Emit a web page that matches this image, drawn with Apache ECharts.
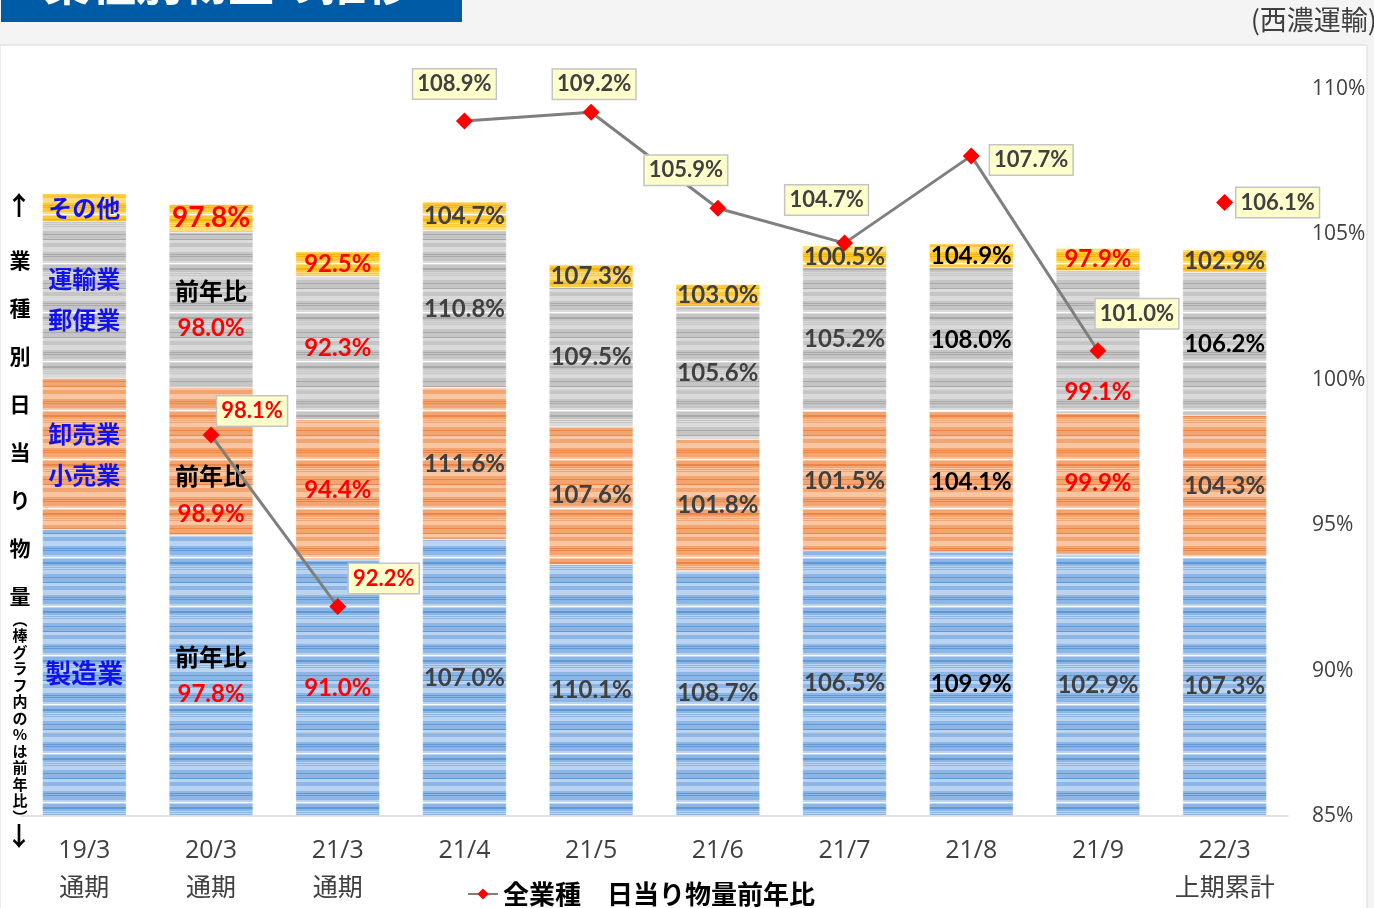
<!DOCTYPE html>
<html>
<head>
<meta charset="utf-8">
<script src="https://cdn.jsdelivr.net/npm/echarts@6/dist/echarts.min.js"></script>
<style>
html,body{margin:0;padding:0;background:#F4F4F4;}
#chart{width:1374px;height:908px;}
</style>
</head>
<body>
<div id="chart"></div>
<script>
// ---------- data ----------
const categories = ['19/3\n通期','20/3\n通期','21/3\n通期','21/4','21/5','21/6','21/7','21/8','21/9','22/3\n上期累計'];
// relative daily volume by industry (bar segment sizes, index scale)
const manufacturing   = [39.4, 38.6, 35.2, 38.0, 34.6, 33.7, 36.5, 36.3, 36.0, 35.7];
const wholesaleRetail = [20.8, 20.4, 19.3, 20.9, 18.9, 18.1, 19.2, 19.3, 19.4, 19.4];
const transportPostal = [21.6, 21.3, 19.7, 21.6, 19.2, 18.3, 19.7, 19.8, 19.6, 19.7];
const others          = [3.8, 3.8, 3.4, 4.0, 3.1, 3.0, 3.0, 3.3, 3.1, 3.1];
// year-on-year ratios (%) shown inside the bars
const manufacturingYoY   = [null, 97.8, 91.0, 107.0, 110.1, 108.7, 106.5, 109.9, 102.9, 107.3];
const wholesaleRetailYoY = [null, 98.9, 94.4, 111.6, 107.6, 101.8, 101.5, 104.1, 99.9, 104.3];
const transportPostalYoY = [null, 98.0, 92.3, 110.8, 109.5, 105.6, 105.2, 108.0, 99.1, 106.2];
const othersYoY          = [null, 97.8, 92.5, 104.7, 107.3, 103.0, 100.5, 104.9, 97.9, 102.9];
// all industries, daily volume YoY (%)
const allYoY = [null, 98.1, 92.2, 108.9, 109.2, 105.9, 104.7, 107.7, 101.0, 106.1];
const lineSegments = [[1, 2], [3, 8], [9, 9]];
const rightTicks = [85, 110, 5];
const segNames = {mfg: '製造業', whl: '卸売業\n小売業', trn: '運輸業\n郵便業', oth: 'その他'};
const legendName = '全業種　日当り物量前年比';

// ---------- styles ----------
const FONT = 'Lato, "Noto Sans CJK JP", sans-serif';
const CJK = '"Noto Sans CJK JP", sans-serif';
const NAME_BLUE = '#1212EE';
const RED = '#FF0000';
const DGRAY = '#404040';

function stripes(base, light, dark) {
  const c = document.createElement('canvas');
  const seq = 'BBLLLLLBBDBDBBBBLLWLBBBDDBBLBLBLLLLBBBDBBBBDLLLBB';
  c.width = 4; c.height = seq.length;
  const g = c.getContext('2d');
  for (let y = 0; y < seq.length; y++) {
    const ch = seq[y];
    g.fillStyle = ch === 'B' ? base : ch === 'L' ? light : ch === 'W' ? '#FFFFFF' : dark;
    g.globalAlpha = ch === 'W' ? 0.5 : 1;
    g.fillRect(0, y, 4, 1);
  }
  return {image: c, repeat: 'repeat'};
}
const patterns = {
  mfg: stripes('#8DB6E4', '#B9D3F0', '#5E9AD8'),
  whl: stripes('#F2A570', '#F8C6A2', '#EC8546'),
  trn: stripes('#C5C5C5', '#DADADA', '#A9A9A9'),
  oth: stripes('#FFC83A', '#FFDD78', '#F5B500')
};

function colorFor(key, i, v) {
  if (v < 100) return RED;
  if (i === 7) return '#000000';
  if (i === 9 && key === 'trn') return '#000000';
  return DGRAY;
}
const labelOffsets = {whl: {1: [0, 34]}, trn: {8: [0, 50]}};

function barSeries(key, values, yoy) {
  const data = values.map((v, i) => {
    let label;
    if (i === 0) {
      label = {formatter: segNames[key], color: NAME_BLUE, lineHeight: 41, fontSize: key === 'mfg' ? 26 : 24, fontFamily: CJK};
    } else if (i === 1 && key !== 'oth') {
      label = {
        formatter: '{k|前年比}\n{r|' + yoy[i].toFixed(1) + '%}',
        rich: {
          k: {color: '#000', fontSize: 24, fontWeight: 'bold', fontFamily: CJK, lineHeight: 38},
          r: {color: RED, fontSize: 24, fontWeight: 'bold', fontFamily: FONT, lineHeight: 38}
        }
      };
    } else {
      label = {formatter: yoy[i].toFixed(1) + '%', color: colorFor(key, i, yoy[i])};
      if (i === 1 && key === 'oth') label.fontSize = 28;
    }
    if (labelOffsets[key] && labelOffsets[key][i]) label.offset = labelOffsets[key][i];
    return {value: v, label: label};
  });
  return {
    type: 'bar', name: segNames[key], stack: 'vol', yAxisIndex: 0, barWidth: 84,
    itemStyle: {color: patterns[key], borderColor: 'rgba(255,255,255,0.6)', borderWidth: 0.5},
    label: {show: true, position: 'inside', fontSize: 24, fontWeight: 'bold', fontFamily: FONT},
    emphasis: {disabled: true},
    data: data, z: 2
  };
}

const pointOffsets = {1: [41, -24], 2: [46, -28], 3: [-10, -37], 4: [3, -28], 5: [-32, -38], 6: [-18, -43], 7: [60, 4], 8: [39, -37], 9: [53, 0]};
function lineSeries(seg) {
  const data = allYoY.map((v, i) => {
    if (i < seg[0] || i > seg[1] || v == null) return null;
    return {
      value: v,
      label: {
        formatter: v.toFixed(1) + '%',
        color: v < 100 ? RED : DGRAY,
        offset: pointOffsets[i]
      }
    };
  });
  return {
    type: 'line', name: legendName, yAxisIndex: 1, data: data,
    symbol: 'diamond', symbolSize: 17, connectNulls: false,
    lineStyle: {color: '#7F7F7F', width: 3},
    itemStyle: {color: '#FF0000'},
    label: {
      show: true, position: 'inside', fontSize: 22, fontWeight: 'bold', fontFamily: FONT,
      backgroundColor: '#FFFFCC', borderColor: '#C4C4C4', borderWidth: 1.5, padding: [4, 4, 3, 4]
    },
    emphasis: {disabled: true},
    z: 10
  };
}

const leftChars = '業\n種\n別\n日\n当\nり\n物\n量';
const smallChars = '︵\n棒\nグ\nラ\nフ\n内\nの\n%\nは\n前\n年\n比\n︶';

const option = {
  backgroundColor: '#F4F4F4',
  animation: false,
  grid: {left: 21, right: 86, top: 89, bottom: 88},
  legend: {
    data: [legendName], left: 462, top: 876, itemWidth: 30, itemHeight: 14, itemGap: 6,
    textStyle: {fontSize: 26, fontWeight: 'bold', color: '#000', fontFamily: CJK}
  },
  xAxis: {
    type: 'category', data: categories,
    axisLine: {lineStyle: {color: '#D9D9D9', width: 1.5}},
    axisTick: {show: false},
    axisLabel: {fontSize: 25, color: DGRAY, fontFamily: '"Open Sans", "Noto Sans CJK JP", sans-serif', lineHeight: 38, margin: 16, interval: 0}
  },
  yAxis: [
    {type: 'value', min: 0, max: 100, show: false, splitLine: {show: false}},
    {
      type: 'value', position: 'right', min: rightTicks[0], max: rightTicks[1], interval: rightTicks[2],
      axisLine: {show: false}, axisTick: {show: false}, splitLine: {show: false},
      axisLabel: {formatter: '{value}%', fontSize: 21, color: DGRAY, margin: 24, fontFamily: '"Open Sans", sans-serif'}
    }
  ],
  graphic: [
    {type: 'rect', z: -10, shape: {x: 0, y: 45, width: 1367, height: 880}, style: {fill: '#FFFFFF', stroke: '#D9D9D9', lineWidth: 1}, silent: true},
    {type: 'rect', z: -9, shape: {x: 1, y: 0, width: 461, height: 22}, style: {fill: '#005BA6'}, silent: true},
    {type: 'text', z: -8, x: 44, y: 6, style: {text: '業種別物量の推移', fill: '#FFFFFF', font: 'bold 46px "Noto Sans CJK JP"', textVerticalAlign: 'bottom'}, silent: true},
    {type: 'text', x: 1377, y: 20, style: {text: '(西濃運輸)', fill: DGRAY, font: '27px "Noto Sans CJK JP"', textAlign: 'right', textVerticalAlign: 'middle'}, silent: true},
    {type: 'text', x: 19, y: 205, style: {text: '↑', fill: '#000', font: 'bold 26px "Noto Sans CJK JP"', textAlign: 'center', textVerticalAlign: 'middle'}, silent: true},
    {type: 'text', x: 20, y: 236, style: {text: leftChars, fill: '#000', font: 'bold 21px "Noto Sans CJK JP"', lineHeight: 48, textAlign: 'center', textVerticalAlign: 'top'}, silent: true},
    {type: 'text', x: 20, y: 611, style: {text: smallChars, fill: '#000', font: 'bold 15px "Noto Sans CJK JP"', lineHeight: 16.5, textAlign: 'center', textVerticalAlign: 'top'}, silent: true},
    {type: 'text', x: 19, y: 836, style: {text: '↓', fill: '#000', font: 'bold 26px "Noto Sans CJK JP"', textAlign: 'center', textVerticalAlign: 'middle'}, silent: true}
  ],
  series: [
    barSeries('mfg', manufacturing, manufacturingYoY),
    barSeries('whl', wholesaleRetail, wholesaleRetailYoY),
    barSeries('trn', transportPostal, transportPostalYoY),
    barSeries('oth', others, othersYoY)
  ].concat(lineSegments.map(lineSeries))
};

const chart = echarts.init(document.getElementById('chart'), null, {renderer: 'canvas'});
chart.setOption(option);
</script>
</body>
</html>
